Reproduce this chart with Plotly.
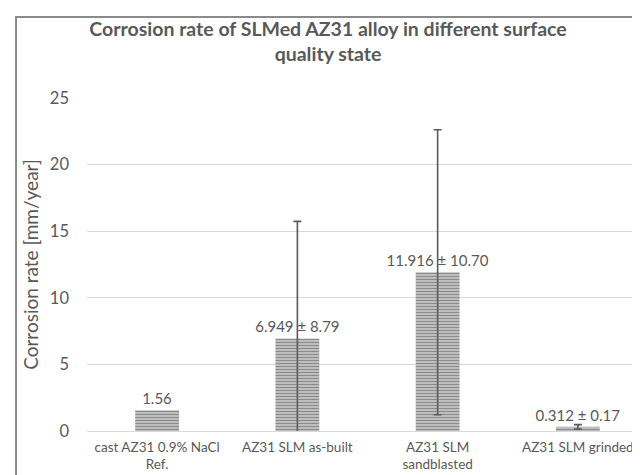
import plotly.graph_objects as go

categories = ["cast AZ31 0.9% NaCl<br>Ref.", "AZ31 SLM as-built", "AZ31 SLM<br>sandblasted", "AZ31 SLM grinded"]
rates = [1.56, 6.949, 11.916, 0.312]
errors = [None, 8.79, 10.70, 0.17]
labels = ["1.56", "6.949 ± 8.79", "11.916 ± 10.70", "0.312 ± 0.17"]
y_ticks = [0, 5, 10, 15, 20, 25]

FONT = "Lato, Open Sans, sans-serif"
GREY = "#595959"

fig = go.Figure()
fig.add_trace(go.Bar(
    x=categories,
    y=rates,
    text=labels,
    textposition="outside",
    constraintext="none",
    textfont=dict(family=FONT, size=15, color=GREY),
    cliponaxis=False,
    marker=dict(
        color="white",
        line=dict(width=0),
        pattern=dict(shape="-", fgcolor="#1a1a1a", bgcolor="white", size=3, solidity=0.72),
    ),
    width=0.313,
    showlegend=False,
))

err_x = [c for c, e in zip(categories, errors) if e is not None]
err_y = [r for r, e in zip(rates, errors) if e is not None]
err_v = [e for e in errors if e is not None]
fig.add_trace(go.Scatter(
    x=err_x, y=err_y, mode="markers",
    marker=dict(size=1, color="rgba(0,0,0,0)"),
    error_y=dict(type="data", array=err_v, visible=True, color="#5a5a5a", thickness=1.6, width=4),
    showlegend=False, hoverinfo="skip",
))

fig.update_layout(
    width=640, height=475,
    margin=dict(l=79, r=0, t=90, b=52),
    paper_bgcolor="white",
    plot_bgcolor="white",
    title=dict(
        text="<b>Corrosion rate of SLMed AZ31 alloy in different surface<br>quality state</b>",
        x=0.5, xref="container", xanchor="center",
        y=0.941, yref="container", yanchor="top",
        font=dict(family=FONT, size=19.5, color=GREY),
    ),
    font=dict(family=FONT, color=GREY),
    xaxis=dict(
        showgrid=False, showline=False, zeroline=False,
        tickfont=dict(family=FONT, size=13.5, color=GREY),
        tickangle=0,
        ticks="",
        ticklabelstandoff=6,
        automargin=False,
    ),
    yaxis=dict(
        range=[0, 25],
        tickvals=y_ticks,
        showgrid=True, gridcolor="#d9d9d9", gridwidth=1,
        zeroline=True, zerolinecolor="#d9d9d9", zerolinewidth=1,
        showline=False,
        ticks="",
        ticklabelstandoff=17,
        tickfont=dict(family=FONT, size=16.5, color=GREY),
        title=dict(text="Corrosion rate [mm/year]", font=dict(family=FONT, size=19, color=GREY), standoff=6),
        automargin=False,
    ),
    shapes=[dict(
        type="rect", xref="paper", yref="paper",
        x0=-0.1265, x1=1.2, y0=-0.5, y1=1.2435,
        line=dict(color="#8a8a8a", width=2), fillcolor="rgba(0,0,0,0)", layer="below",
    )],
)

fig.write_html("out.html")
